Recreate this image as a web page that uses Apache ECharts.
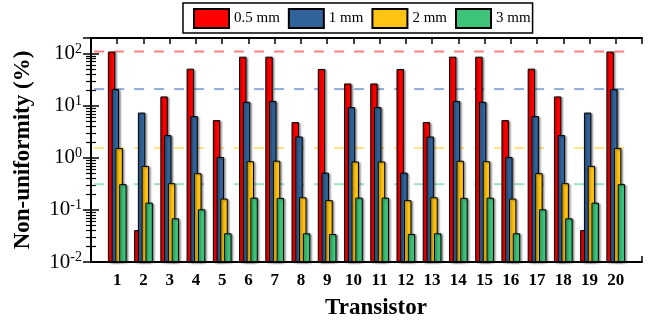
<!DOCTYPE html>
<html>
<head>
<meta charset="utf-8">
<script src="https://cdn.jsdelivr.net/npm/echarts@6/dist/echarts.min.js"></script>
<style>
  html, body { margin: 0; padding: 0; background: #fff; }
  #main { width: 660px; height: 325px; }
</style>
</head>
<body>
<div id="main"></div>
<script>
var transistors = [1, 2, 3, 4, 5, 6, 7, 8, 9, 10, 11, 12, 13, 14, 15, 16, 17, 18, 19, 20];
var seriesNames = ['0.5 mm', '1 mm', '2 mm', '3 mm'];

// non-uniformity in %, one value per transistor
var mm05 = [110, 0.041, 15.1, 51.5, 5.3, 87.5, 87.5, 4.86, 50.8, 26.8,
            26.8, 50.8, 4.86, 87.5, 87.5, 5.3, 51.5, 15.1, 0.041, 110];
var mm1 = [20.9, 7.4, 2.73, 6.34, 1.04, 11.9, 12.4, 2.57, 0.52, 9.44,
           9.44, 0.52, 2.57, 12.4, 11.9, 1.04, 6.34, 2.73, 7.4, 20.9];
var mm2 = [1.54, 0.70, 0.326, 0.508, 0.165, 0.863, 0.88, 0.175, 0.154, 0.85,
           0.85, 0.154, 0.175, 0.88, 0.863, 0.165, 0.508, 0.326, 0.70, 1.54];
var mm3 = [0.312, 0.138, 0.069, 0.103, 0.0356, 0.172, 0.170, 0.0356, 0.0345, 0.172,
           0.172, 0.0345, 0.0356, 0.170, 0.172, 0.0356, 0.103, 0.069, 0.138, 0.312];

var barColors = ['#ff0000', '#31639a', '#ffc312', '#3dc47a'];
var refColors = ['#ff8080', '#8eaad6', '#ffe386', '#9ee3bc'];
var font = 'Liberation Serif';

var chart = echarts.init(document.getElementById('main'));

var values = [mm05, mm1, mm2, mm3];
var series = [];

// dashed reference lines at the maximum of each width
values.forEach(function (arr, i) {
    var m = Math.max.apply(null, arr);
    series.push({
        type: 'line',
        silent: true,
        z: 1,
        symbol: 'none',
        data: [[0.12, m], [20.66, m]],
        lineStyle: { color: refColors[i], width: 2, type: [10, 10] }
    });
});

values.forEach(function (arr, i) {
    series.push({
        name: seriesNames[i],
        type: 'bar',
        z: 2,
        barWidth: 7.4,
        barGap: '-49%',
        data: transistors.map(function (t, k) { return [t, arr[k]]; }),
        itemStyle: {
            color: barColors[i],
            borderColor: '#000',
            borderWidth: 1,
            shadowColor: 'rgba(0,0,0,0.45)',
            shadowBlur: 2,
            shadowOffsetX: 1.5,
            shadowOffsetY: 1
        }
    });
});

function logLabel(v) {
    var e = Math.round(Math.log10(v));
    if (Math.abs(v - Math.pow(10, e)) > 1e-9 * v) return '';
    return '{b|10}{s|' + e + '}';
}

var yRich = {
    b: { fontFamily: font, fontSize: 21, color: '#000', lineHeight: 23 },
    s: { fontFamily: font, fontSize: 14, color: '#000', verticalAlign: 'top', lineHeight: 23 }
};

chart.setOption({
    animation: false,
    backgroundColor: '#fff',
    legend: {
        data: seriesNames,
        left: 183,
        top: 3,
        padding: [5, 2, 4, 10],
        itemWidth: 35,
        itemHeight: 19,
        itemGap: 8,
        borderColor: '#000',
        borderWidth: 1.5,
        icon: 'rect',
        textStyle: { fontFamily: font, fontSize: 15, color: '#000' }
    },
    grid: { left: 91, right: 18, top: 38, bottom: 63 },
    xAxis: [{
        type: 'value',
        position: 'bottom',
        min: 0,
        max: 21,
        interval: 1,
        name: 'Transistor',
        nameLocation: 'middle',
        nameGap: 35,
        nameTextStyle: { fontFamily: font, fontSize: 23, fontWeight: 'bold', color: '#000', padding: [0, 0, 0, 19] },
        axisLine: { lineStyle: { color: '#000', width: 2 } },
        axisTick: { inside: true, length: 6, lineStyle: { color: '#000', width: 1.5 } },
        splitLine: { show: false },
        axisLabel: {
            margin: 10,
            fontFamily: font, fontSize: 17, fontWeight: 'bold', color: '#000',
            formatter: function (v) { return (v >= 1 && v <= 20) ? String(v) : ''; }
        }
    }, {
        type: 'value',
        position: 'top',
        min: 0,
        max: 21,
        interval: 1,
        axisLine: { lineStyle: { color: '#000', width: 2 } },
        axisTick: { inside: true, length: 6, lineStyle: { color: '#000', width: 1.5 } },
        splitLine: { show: false },
        axisLabel: { show: false }
    }],
    yAxis: [{
        type: 'log',
        logBase: 10,
        position: 'left',
        min: 0.01,
        max: 200,
        startValue: 0.01,
        name: 'Non-uniformity (%)',
        nameLocation: 'middle',
        nameGap: 56,
        nameTextStyle: { fontFamily: font, fontSize: 23, fontWeight: 'bold', color: '#000' },
        axisLine: { show: true, lineStyle: { color: '#000', width: 2 } },
        axisTick: { inside: true, length: 8, lineStyle: { color: '#000', width: 1.5 } },
        minorTick: { show: true, splitNumber: 9, length: 5, lineStyle: { color: '#000', width: 1.2 } },
        splitLine: { show: false },
        axisLabel: { margin: 9, formatter: logLabel, rich: yRich }
    }, {
        type: 'log',
        logBase: 10,
        position: 'right',
        min: 0.01,
        max: 200,
        axisLine: { show: true, lineStyle: { color: '#000', width: 2 } },
        axisTick: { inside: true, length: 8, lineStyle: { color: '#000', width: 1.5 } },
        minorTick: { show: true, splitNumber: 9, length: 5, lineStyle: { color: '#000', width: 1.2 } },
        splitLine: { show: false },
        axisLabel: { show: false }
    }],
    series: series
});
</script>
</body>
</html>
